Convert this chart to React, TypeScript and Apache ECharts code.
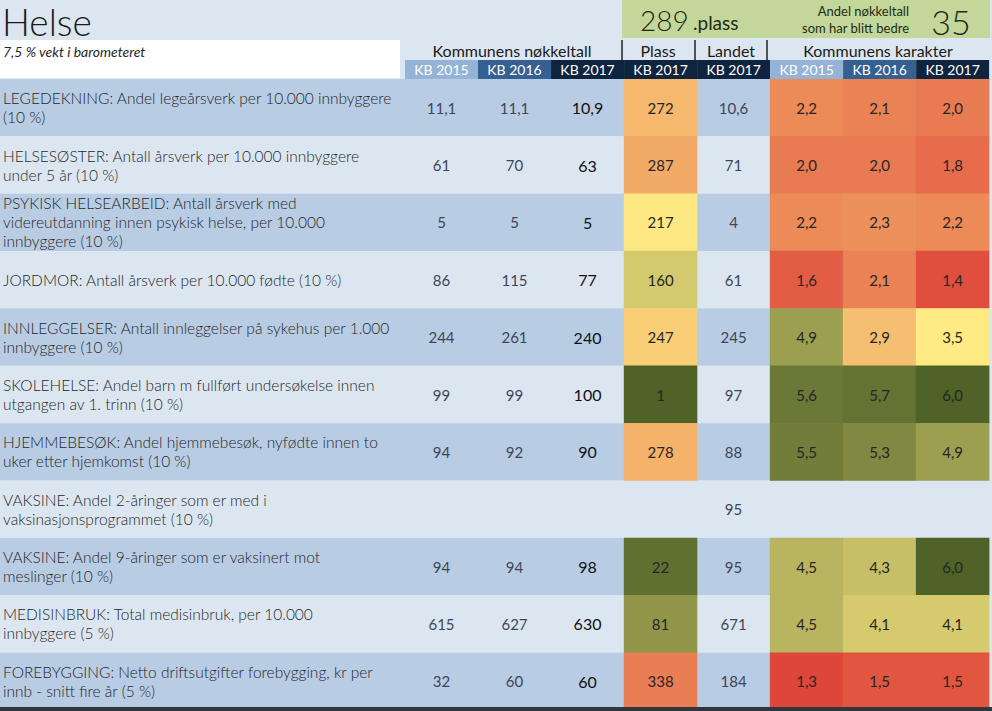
import React, { useEffect, useRef } from 'react';
import * as echarts from 'echarts';

const rowLabels = [
  'LEGEDEKNING: Andel legeårsverk per 10.000 innbyggere\n(10 %)',
  'HELSESØSTER: Antall årsverk per 10.000 innbyggere\nunder 5 år (10 %)',
  'PSYKISK HELSEARBEID: Antall årsverk med\nvidereutdanning innen psykisk helse, per 10.000\ninnbyggere (10 %)',
  'JORDMOR: Antall årsverk per 10.000 fødte (10 %)',
  'INNLEGGELSER: Antall innleggelser på sykehus per 1.000\ninnbyggere (10 %)',
  'SKOLEHELSE: Andel barn m fullført undersøkelse innen\nutgangen av 1. trinn (10 %)',
  'HJEMMEBESØK: Andel hjemmebesøk, nyfødte innen to\nuker etter hjemkomst (10 %)',
  'VAKSINE: Andel 2-åringer som er med i\nvaksinasjonsprogrammet (10 %)',
  'VAKSINE: Andel 9-åringer som er vaksinert mot\nmeslinger (10 %)',
  'MEDISINBRUK: Total medisinbruk, per 10.000\ninnbyggere (5 %)',
  'FOREBYGGING: Netto driftsutgifter forebygging, kr per\ninnb - snitt fire år (5 %)',
];

const columnKeys = ['n2015', 'n2016', 'n2017', 'plass', 'landet', 'k2015', 'k2016', 'k2017'];
const columnHeaders = ['KB 2015', 'KB 2016', 'KB 2017', 'KB 2017', 'KB 2017', 'KB 2015', 'KB 2016', 'KB 2017'];
const groupHeaders = ['Kommunens nøkkeltall', 'Plass', 'Landet', 'Kommunens karakter'];

const kb2015 = [11.1, 61, 5, 86, 244, 99, 94, null, 94, 615, 32];
const kb2016 = [11.1, 70, 5, 115, 261, 99, 92, null, 94, 627, 60];
const kb2017 = [10.9, 63, 5, 77, 240, 100, 90, null, 98, 630, 60];
const plass2017 = [272, 287, 217, 160, 247, 1, 278, null, 22, 81, 338];
const landet2017 = [10.6, 71, 4, 61, 245, 97, 88, 95, 95, 671, 184];
const karakter2015 = [2.2, 2.0, 2.2, 1.6, 4.9, 5.6, 5.5, null, 4.5, 4.5, 1.3];
const karakter2016 = [2.1, 2.0, 2.3, 2.1, 2.9, 5.7, 5.3, null, 4.3, 4.1, 1.5];
const karakter2017 = [2.0, 1.8, 2.2, 1.4, 3.5, 6.0, 4.9, null, 6.0, 4.1, 1.5];

const totalPlass = 289;
const andelBedre = 35;

const FONT = 'Lato';
const headerColors = ['#95b3d7', '#366092', '#0f243e', '#0f243e', '#0f243e', '#95b3d7', '#366092', '#0f243e'];

const fmtNum = (v: number) => (Number.isInteger(v) ? String(v) : v.toFixed(1).replace('.', ','));
const fmtKar = (v: number) => v.toFixed(1).replace('.', ',');

export default function App() {
  const ref = useRef<HTMLDivElement>(null);
  useEffect(() => {
    if (!ref.current) return;
    const chart = echarts.init(ref.current, null, { renderer: 'svg' });

    const textCells: { col: number; row: number; text: string; color: string; size: number }[] = [];
    const numCols: [number, (number | null)[], string, number][] = [
      [0, kb2015, '#3e4656', 15],
      [1, kb2016, '#3e4656', 15],
      [2, kb2017, '#111111', 16],
      [4, landet2017, '#3e4656', 15],
    ];
    numCols.forEach(([col, arr, color, size]) => {
      arr.forEach((v, row) => {
        if (v != null) textCells.push({ col, row, text: fmtNum(v), color, size });
      });
    });

    const plassData: number[][] = [];
    plass2017.forEach((v, row) => {
      if (v != null) plassData.push([3, row, v]);
    });
    const karData: number[][] = [];
    [karakter2015, karakter2016, karakter2017].forEach((arr, k) => {
      arr.forEach((v, row) => {
        if (v != null) karData.push([5 + k, row, v]);
      });
    });

    const rich: Record<string, any> = {};
    headerColors.forEach((c, i) => {
      rich['h' + i] = {
        width: 73,
        height: 19,
        lineHeight: 19,
        align: 'center',
        backgroundColor: c,
        color: '#ffffff',
        fontSize: 14,
        fontFamily: FONT,
      };
    });

    const option: any = {
      animation: false,
      backgroundColor: '#dce6f1',
      textStyle: { fontFamily: FONT },
      grid: { left: 404, right: 2, top: 79, bottom: 1 },
      xAxis: {
        type: 'category',
        position: 'top',
        data: columnKeys,
        z: 10,
        axisLine: { show: false },
        axisTick: { show: false },
        splitLine: { show: false },
        axisLabel: {
          interval: 0,
          margin: 0,
          formatter: (_v: string, i: number) => `{h${i}|${columnHeaders[i]}}`,
          rich,
        },
      },
      yAxis: {
        type: 'category',
        inverse: true,
        data: rowLabels,
        z: 10,
        axisLine: { show: false },
        axisTick: { show: false },
        splitLine: { show: false },
        axisLabel: {
          interval: 0,
          align: 'left',
          margin: 402,
          color: '#262626',
          fontSize: 15.5,
          fontWeight: 300,
          lineHeight: 19,
          fontFamily: FONT,
        },
      },
      visualMap: [
        {
          type: 'continuous',
          show: false,
          seriesIndex: 1,
          dimension: 2,
          min: 1,
          max: 426,
          inRange: { color: ['#4f6228', '#ffeb84', '#da3030'] },
        },
        {
          type: 'continuous',
          show: false,
          seriesIndex: 2,
          dimension: 2,
          min: 1,
          max: 6,
          inRange: { color: ['#da3030', '#ffeb84', '#4f6228'] },
        },
      ],
      series: [
        {
          type: 'custom',
          silent: true,
          z: 1,
          data: rowLabels.map((_, i) => [0, i]),
          renderItem: (params: any, api: any) => {
            const row = api.value(1);
            const y = api.coord([0, row])[1];
            const h = api.size([0, 1])[1];
            const cs = params.coordSys;
            return {
              type: 'rect',
              shape: { x: 0, y: y - h / 2, width: cs.x + cs.width, height: h },
              style: { fill: row % 2 === 0 ? '#b8cce4' : '#dce6f1' },
            };
          },
        },
        {
          type: 'heatmap',
          z: 2,
          data: plassData,
          label: {
            show: true,
            formatter: (p: any) => String(p.value[2]),
            color: '#262626',
            fontSize: 15,
            fontFamily: FONT,
          },
          emphasis: { disabled: true },
        },
        {
          type: 'heatmap',
          z: 2,
          data: karData,
          label: {
            show: true,
            formatter: (p: any) => fmtKar(p.value[2]),
            color: '#262626',
            fontSize: 15,
            fontFamily: FONT,
          },
          emphasis: { disabled: true },
        },
        {
          type: 'custom',
          silent: true,
          z: 3,
          data: textCells.map((c) => [c.col, c.row]),
          renderItem: (params: any, api: any) => {
            const cell = textCells[params.dataIndex];
            const pt = api.coord([api.value(0), api.value(1)]);
            return {
              type: 'text',
              style: {
                text: cell.text,
                x: pt[0],
                y: pt[1],
                textAlign: 'center',
                textVerticalAlign: 'middle',
                fill: cell.color,
                fontSize: cell.size,
                fontFamily: FONT,
              },
            };
          },
        },
      ],
      graphic: [
        { type: 'rect', shape: { x: 0, y: 40, width: 400, height: 38 }, style: { fill: '#ffffff' }, z: 0 },
        { type: 'rect', shape: { x: 622, y: 0, width: 368, height: 38 }, style: { fill: '#c4d79b' }, z: 0 },
        {
          type: 'text', x: 2, y: 21,
          style: { text: 'Helse', fontSize: 37, fontWeight: 300, fontFamily: FONT, fill: '#1a1a1a', textVerticalAlign: 'middle' },
        },
        {
          type: 'text', x: 3, y: 51,
          style: { text: '7,5 % vekt i barometeret', fontSize: 14, fontStyle: 'italic', fontFamily: FONT, fill: '#262626', textVerticalAlign: 'middle' },
        },
        {
          type: 'text', x: 640, y: 20,
          style: { text: String(totalPlass), fontSize: 28, fontWeight: 300, fontFamily: FONT, fill: '#1e2a14', textVerticalAlign: 'middle' },
        },
        {
          type: 'text', x: 693, y: 22,
          style: { text: '.plass', fontSize: 19, fontFamily: FONT, fill: '#1e2a14', textVerticalAlign: 'middle' },
        },
        {
          type: 'text', x: 909, y: 11,
          style: { text: 'Andel nøkkeltall', fontSize: 13, fontFamily: FONT, fill: '#1e2a14', textAlign: 'right', textVerticalAlign: 'middle' },
        },
        {
          type: 'text', x: 909, y: 28,
          style: { text: 'som har blitt bedre', fontSize: 13, fontFamily: FONT, fill: '#1e2a14', textAlign: 'right', textVerticalAlign: 'middle' },
        },
        {
          type: 'text', x: 951, y: 21,
          style: { text: String(andelBedre), fontSize: 34, fontWeight: 300, fontFamily: FONT, fill: '#1e2a14', textAlign: 'center', textVerticalAlign: 'middle' },
        },
        {
          type: 'text', x: 512, y: 50,
          style: { text: groupHeaders[0], fontSize: 16, fontFamily: FONT, fill: '#1a1a1a', textAlign: 'center', textVerticalAlign: 'middle' },
        },
        {
          type: 'text', x: 658, y: 50,
          style: { text: groupHeaders[1], fontSize: 16, fontFamily: FONT, fill: '#1a1a1a', textAlign: 'center', textVerticalAlign: 'middle' },
        },
        {
          type: 'text', x: 731, y: 50,
          style: { text: groupHeaders[2], fontSize: 16, fontFamily: FONT, fill: '#1a1a1a', textAlign: 'center', textVerticalAlign: 'middle' },
        },
        {
          type: 'text', x: 878, y: 50,
          style: { text: groupHeaders[3], fontSize: 16, fontFamily: FONT, fill: '#1a1a1a', textAlign: 'center', textVerticalAlign: 'middle' },
        },
        { type: 'line', shape: { x1: 622, y1: 40, x2: 622, y2: 60 }, style: { stroke: '#222222', lineWidth: 1.5 } },
        { type: 'line', shape: { x1: 695, y1: 40, x2: 695, y2: 60 }, style: { stroke: '#222222', lineWidth: 1.5 } },
        { type: 'line', shape: { x1: 767, y1: 40, x2: 767, y2: 60 }, style: { stroke: '#222222', lineWidth: 1.5 } },
        { type: 'rect', shape: { x: 0, y: 707, width: 992, height: 4 }, style: { fill: '#2f3640' }, z: 10 },
      ],
    };

    chart.setOption(option);
    return () => chart.dispose();
  }, []);

  return <div ref={ref} style={{ position: 'absolute', left: 0, top: 0, width: 992, height: 711 }} />;
}
